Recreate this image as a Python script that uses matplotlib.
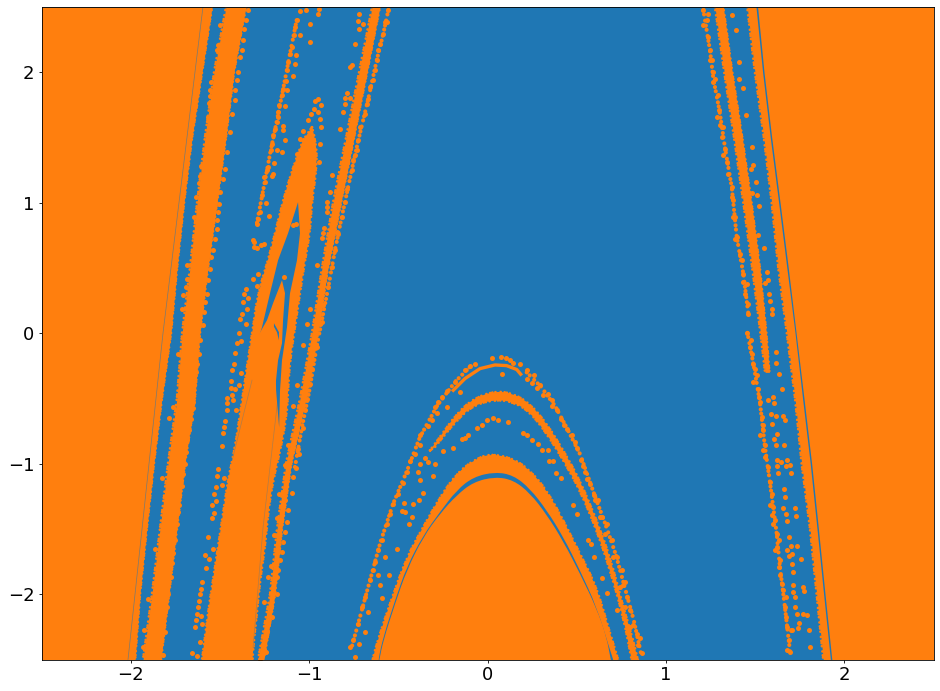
import matplotlib
matplotlib.use("Agg")
import matplotlib.pyplot as plt
from matplotlib.path import Path
from matplotlib.patches import PathPatch

BLUE = "#1f77b4"
ORANGE = "#ff7f0e"

levels = [2.5, 2, 1.5, 1, .5, 0, -.5, -1, -1.5, -2, -2.5]
left_edge = [-1.544, -1.600, -1.656, -1.701, -1.740, -1.774, -1.825, -1.870, -1.910, -1.948, -1.975]
left_slit = [(-1.595, 2.5), (-1.819, 0), (-2.015, -2.5)]
band_b_l = [-1.466, -1.533, -1.584, -1.628, -1.668, -1.712, -1.741, -1.791, -1.836, -1.881, -1.931]
band_b_r = [-1.354, -1.421, -1.466, -1.516, -1.567, -1.612, -1.640, -1.696, -1.741, -1.785, -1.830]
right_edge = [1.514, 1.55, 1.593, 1.64, 1.686, 1.73, 1.774, 1.817, 1.855, 1.892, 1.93]
band_e_l = [1.456, 1.499, 1.549, 1.593, 1.630, 1.678, 1.724, 1.761, 1.808, 1.845, 1.882]
band_e_r = [1.505, 1.542, 1.585, 1.632, 1.678, 1.724, 1.766, 1.809, 1.847, 1.884, 1.922]
levels_f = [2.5, 2, 1.5, 1, .5, 0, -.3]
band_f_l = [1.275, 1.327, 1.382, 1.434, 1.484, 1.530, 1.556]
band_f_r = [1.322, 1.372, 1.428, 1.480, 1.527, 1.563, 1.580]
levels_d = [2.5, 2, 1.5, 1, .5, 0, -.5, -1, -1.5, -2, -2.5]
band_d_l = [-.647, -.720, -.793, -.866, -.928, -.984, -1.051, -1.13, -1.180, -1.219, -1.286]
band_d_r = [-.603, -.675, -.748, -.821, -.894, -.950, -1.017, -1.10, -1.152, -1.191, -1.253]

wedge = [(-.984, 1.579), (-.961, 1.479), (-.956, 1.272), (-.984, 1.019), (-.995, .766), (-1.023, .559), (-1.051, .307),
         (-1.079, .046), (-1.107, -.207), (-1.118, -.437), (-1.124, -.613), (-1.157, -.874), (-1.202, -1.126),
         (-1.230, -1.379), (-1.247, -1.640), (-1.275, -1.893), (-1.292, -2.146), (-1.314, -2.406), (-1.320, -2.6),
         (-1.610, -2.6), (-1.600, -2.5), (-1.567, -2.146), (-1.539, -1.893), (-1.511, -1.640), (-1.482, -1.379), (-1.455, -1.126),
         (-1.415, -.874), (-1.387, -.613), (-1.359, -.360), (-1.343, -.207), (-1.314, .046), (-1.287, .307),
         (-1.230, .559), (-1.191, .766), (-1.146, 1.019), (-1.090, 1.272), (-1.034, 1.479)]
wedge_gap = [(-1.062, 1.004), (-1.051, .766), (-1.068, .559), (-1.107, .307), (-1.124, .046), (-1.152, -.207), (-1.163, -.437),
             (-1.168, -.72), (-1.185, -.437), (-1.19, -.05), (-1.287, -.054), (-1.264, .046), (-1.219, .307), (-1.174, .559), (-1.118, .766)]
wedge_spike = [(-1.152, .406), (-1.135, .307), (-1.146, .100), (-1.152, -.077), (-1.174, -.207), (-1.191, -.437),
               (-1.30, -.437), (-1.30, -.054), (-1.236, .100), (-1.202, .230)]
spike_slit = [(-1.197, .077), (-1.169, .008), (-1.169, -.054), (-1.180, .008), (-1.197, .05)]
wedge_slit_a = [(-1.163, -.36), (-1.258, -1.487), (-1.314, -2.406)]
wedge_slit_b = [(-1.32, -.36), (-1.427, -.95)]

dome_outer = [(-.66, -2.6), (-.646, -2.5), (-.603, -2.301), (-.547, -2.072), (-.453, -1.714), (-.360, -1.484), (-.266, -1.254),
              (-.173, -1.075), (-.079, -.973), (.014, -.922), (.145, -.960), (.238, -1.050), (.332, -1.203),
              (.425, -1.433), (.518, -1.688), (.612, -1.944), (.687, -2.301), (.733, -2.5), (.75, -2.6)]
dome_gap = [(-.62, -2.6), (-.612, -2.5), (-.584, -2.327), (-.518, -2.046), (-.453, -1.791), (-.360, -1.548), (-.266, -1.369),
            (-.173, -1.203), (-.079, -1.101), (.042, -1.063), (.145, -1.088), (.238, -1.190), (.332, -1.356),
            (.425, -1.561), (.518, -1.816), (.612, -2.097), (.687, -2.429), (.705, -2.5), (.72, -2.6)]
dome_inner = [(-.62, -2.6), (-.606, -2.5), (-.584, -2.353), (-.518, -2.072), (-.453, -1.816), (-.360, -1.561), (-.266, -1.382),
              (-.173, -1.241), (-.079, -1.14), (.042, -1.10), (.145, -1.125), (.238, -1.225), (.332, -1.39),
              (.425, -1.595), (.518, -1.84), (.612, -2.11), (.668, -2.33), (.690, -2.5), (.71, -2.6)]
arc_mid = [(-.322, -.897), (-.266, -.794), (-.173, -.616), (-.079, -.501), (.042, -.442), (.145, -.462), (.238, -.539),
           (.332, -.692), (.425, -.897), (.518, -1.126), (.612, -1.433), (.687, -1.714), (.761, -2.097), (.817, -2.353),
           (.842, -2.5), (.86, -2.6), (.82, -2.6), (.808, -2.5), (.761, -2.174), (.687, -1.816), (.612, -1.510), (.518, -1.203), (.425, -.973),
           (.332, -.769), (.238, -.603), (.145, -.526), (.042, -.508), (-.079, -.552), (-.173, -.667), (-.294, -.871)]
arc_top = [(-.192, -.437), (-.126, -.347), (-.042, -.271), (.042, -.243), (.107, -.248), (.164, -.278), (.186, -.314)]

chain_dome_right = [(.22, -.30), (.30, -.41), (.38, -.56), (.45, -.74), (.52, -.93), (.60, -1.24), (.66, -1.46), (.72, -1.70), (.77, -1.95), (.82, -2.2), (.86, -2.45)]
chain_dome_left = [(-.10, -.26), (-.18, -.37), (-.28, -.55), (-.38, -.80), (-.45, -1.05), (-.53, -1.31), (-.60, -1.60), (-.65, -1.85), (-.72, -2.2), (-.76, -2.4)]
chain_h = [(-.556, 2.475), (-.584, 2.296), (-.621, 2.092), (-.668, 1.798), (-.724, 1.479), (-.761, 1.249), (-.817, .891), (-.855, .636), (-.892, .355), (-.93, .087), (-.958, -.105), (-1.0, -.45), (-1.04, -.72), (-1.08, -1.03)]
chain_far_r = [(1.21, 2.475), (1.247, 2.169), (1.266, 1.95), (1.30, 1.709), (1.332, 1.415), (1.369, 1.121), (1.397, .738), (1.434, .457), (1.462, .151)]
chain_low_r = [(1.457, .003), (1.49, -.232), (1.527, -.526), (1.554, -.858), (1.583, -1.139), (1.621, -1.535), (1.640, -1.80), (1.667, -2.097), (1.696, -2.442)]
chain_i = [(-1.07, 2.398), (-1.107, 2.143), (-1.145, 1.875), (-1.182, 1.619), (-1.215, 1.402), (-1.262, 1.063), (-1.294, .835)]

dots_right_far = [(1.210, 2.475), (1.229, 2.398), (1.210, 2.360), (1.238, 2.271), (1.247, 2.169), (1.257, 2.092), (1.266, 2.003),
    (1.266, 1.926), (1.294, 1.824), (1.300, 1.709), (1.304, 1.594), (1.313, 1.504), (1.332, 1.415), (1.341, 1.313), (1.350, 1.223),
    (1.369, 1.121), (1.378, 1.019), (1.387, .891), (1.397, .738), (1.416, .610), (1.434, .457), (1.444, .304), (1.462, .151),
    (1.238, 2.450), (1.247, 2.092), (1.275, 1.951), (1.288, 1.658), (1.322, 1.581), (1.318, 1.364), (1.369, 1.044), (1.378, .891),
    (1.387, .725), (1.425, .559), (1.453, .381), (1.462, .227), (1.434, .393)]
dots_right_iso = [(1.373, 2.442), (1.391, 2.327), (1.412, 2.079), (1.412, 1.951), (1.434, 1.883), (1.449, 1.670), (1.481, 1.428),
    (1.490, 1.293), (1.475, 1.257), (1.503, 1.160), (1.485, 1.078), (1.513, 1.057), (1.524, .978), (1.519, .751), (1.552, .656),
    (1.569, .470), (1.574, .411), (1.558, .386), (1.580, .299), (1.584, .248), (1.593, .189), (1.597, .146)]
dots_right_low = [(1.457, .003), (1.475, -.054), (1.481, -.156), (1.490, -.232), (1.509, -.322), (1.518, -.424), (1.527, -.526),
    (1.536, -.641), (1.545, -.743), (1.554, -.858), (1.554, -.948), (1.573, -1.024), (1.583, -1.139), (1.592, -1.229), (1.602, -1.331),
    (1.611, -1.433), (1.621, -1.535), (1.621, -1.637), (1.640, -1.739), (1.640, -1.854), (1.658, -1.970), (1.667, -2.097), (1.673, -2.174),
    (1.677, -2.250), (1.692, -2.352), (1.696, -2.442), (1.471, -.105), (1.500, -.271), (1.490, -.373), (1.524, -.488), (1.545, -.705),
    (1.527, -.781), (1.545, -.896), (1.583, -1.318), (1.592, -1.395), (1.602, -1.458), (1.636, -1.581), (1.612, -1.663), (1.636, -1.791),
    (1.649, -1.918), (1.673, -2.020), (1.704, -2.276), (1.681, -2.429)]
dots_right_low_iso = [(1.617, -.143), (1.617, -.225), (1.636, -.309), (1.649, -.431), (1.602, -.488), (1.574, -.513), (1.608, -.531),
    (1.587, -.616), (1.616, -.636), (1.658, -.636), (1.670, -.667), (1.597, -.692), (1.625, -.769), (1.608, -.807), (1.664, -.853),
    (1.615, -.853), (1.621, -.968), (1.644, -.986), (1.681, -.968), (1.698, -1.007), (1.625, -1.019), (1.673, -1.019), (1.703, -1.068),
    (1.630, -1.068), (1.664, -1.190), (1.670, -1.254), (1.726, -1.339), (1.658, -1.339), (1.673, -1.382), (1.731, -1.397), (1.681, -1.438),
    (1.692, -1.561), (1.737, -1.627), (1.699, -1.632), (1.681, -1.658), (1.705, -1.688), (1.692, -1.709), (1.757, -1.729), (1.709, -1.765),
    (1.714, -1.826), (1.714, -1.931), (1.770, -1.941), (1.776, -1.974), (1.724, -2.020), (1.714, -1.982), (1.724, -2.097), (1.770, -2.148),
    (1.793, -2.156), (1.733, -2.148), (1.746, -2.217), (1.743, -2.258), (1.804, -2.276), (1.809, -2.404), (1.705, -2.271)]
dots_stream_h = [(-.556, 2.475), (-.575, 2.386), (-.584, 2.296), (-.603, 2.220), (-.621, 2.092), (-.631, 2.015), (-.659, 1.888),
    (-.668, 1.798), (-.687, 1.683), (-.715, 1.581), (-.724, 1.479), (-.743, 1.364), (-.761, 1.249), (-.789, 1.109), (-.799, 1.006),
    (-.817, .891), (-.836, .764), (-.855, .636), (-.873, .508), (-.892, .355), (-.920, .215), (-.930, .087), (-.565, 2.386), (-.612, 2.169),
    (-.640, 1.939), (-.678, 1.760), (-.733, 1.402), (-.752, 1.326), (-.771, 2.041), (-.761, 2.054), (-.789, 1.842), (-.771, 1.806),
    (-.799, 1.806), (-.799, 1.760), (-.808, 1.696), (-.827, 1.568), (-.743, 2.220), (-.719, 2.444), (-.724, 2.393), (-.696, 2.373),
    (-.719, 2.335), (-.872, 1.211), (-.883, 1.083), (-.897, 1.006), (-.901, .968), (-.901, .930), (-.919, .807), (-.924, .771), (-.930, .733),
    (-.954, .526), (-.845, .776), (-.995, .189), (-1.010, .074), (-.939, .074)]
dots_stream_i = [(-.943, 2.488), (-.948, 2.450), (-1.017, 2.480), (-1.051, 2.470), (-1.070, 2.398), (-1.079, 2.347), (-.995, 2.373),
    (-1.084, 2.284), (-1.051, 2.284), (-.995, 2.232), (-1.098, 2.194), (-1.107, 2.143), (-1.073, 2.130), (-1.120, 2.079), (-1.079, 2.066),
    (-1.126, 2.015), (-1.092, 1.969), (-1.131, 1.934), (-1.145, 1.875), (-1.122, 1.862), (-1.150, 1.829), (-1.171, 1.747), (-1.133, 1.745),
    (-1.172, 1.696), (-1.176, 1.658), (-1.182, 1.619), (-1.191, 1.568), (-1.145, 1.586), (-1.148, 1.556), (-1.201, 1.517), (-1.133, 1.484),
    (-1.210, 1.453), (-1.215, 1.402), (-1.178, 1.402), (-1.150, 1.390), (-1.195, 1.308), (-1.229, 1.275), (-1.238, 1.249), (-1.201, 1.223),
    (-1.210, 1.206), (-1.253, 1.198), (-1.245, 1.160), (-1.262, 1.063), (-1.243, 1.001), (-1.275, .930), (-1.284, .879), (-1.223, .897),
    (-1.294, .835), (-1.313, .718), (-1.307, .700), (-1.309, .662), (-1.290, .656), (-1.271, .674), (-1.251, .687), (-1.232, .521),
    (-1.284, .457), (-1.313, .419), (-1.294, .360), (-1.354, .342), (-1.363, .304), (-1.341, .273), (-1.369, .240), (-1.346, .189),
    (-1.374, .151), (-1.387, .112), (-1.355, .069)]
dots_above_wedge = [(-.948, 1.798), (-.967, 1.780), (-.933, 1.752), (-.973, 1.722), (-.991, 1.683), (-.948, 1.696), (-.939, 1.645),
    (-1.004, 1.637), (-.935, 1.579), (-1.032, 1.550), (-1.051, 1.492), (-.939, 1.453), (-1.070, 1.377), (-.945, 1.313), (-1.088, .828),
    (-1.075, .835), (-1.139, .432)]
dots_stream_j = [(-1.341, 2.475), (-1.354, 2.404), (-1.365, 2.335), (-1.368, 2.245), (-1.378, 2.169), (-1.387, 2.117), (-1.499, 2.360),
    (-1.508, 2.212), (-1.518, 2.169), (-1.397, 2.003), (-1.406, 1.939), (-1.415, 1.862), (-1.415, 1.785), (-1.434, 1.683), (-1.443, 1.543),
    (-1.458, 1.390), (-1.471, 1.262), (-1.480, 1.185), (-1.499, 1.083), (-1.505, .994), (-1.508, .930), (-1.518, .866), (-1.518, .802),
    (-1.527, .725), (-1.537, .636), (-1.552, .585), (-1.556, .496), (-1.565, .406), (-1.574, .304), (-1.584, .240), (-1.589, .163), (-1.593, .061)]
dots_left_b = [(-1.552, 1.926), (-1.556, 1.867), (-1.556, 1.819), (-1.560, 1.768), (-1.565, 1.658), (-1.608, 1.282), (-1.611, 1.206),
    (-1.619, 1.155), (-1.634, 1.045), (-1.645, .891), (-1.682, .521), (-1.686, .419), (-1.692, .355), (-1.705, .291), (-1.711, .189),
    (-1.733, -.156), (-1.762, -.565), (-1.788, -.646), (-1.827, -1.106), (-1.864, -1.650), (-1.901, -2.033), (-1.925, -2.276), (-1.933, -2.404)]
dots_stream_k = [(-.958, -.105), (-.985, -.271), (-.995, -.386), (-1.014, -.501), (-1.023, -.590), (-1.036, -.723), (-1.060, -.884),
    (-1.056, -.922), (-1.073, -1.029), (-1.088, -1.101), (-1.098, -1.224), (-1.117, -1.356), (-1.144, -1.229), (-1.135, -1.280),
    (-1.154, -1.369), (-1.163, -1.433), (-1.126, -1.446), (-1.135, -1.522), (-1.144, -1.599), (-1.154, -1.676), (-1.163, -1.739),
    (-1.172, -1.816), (-1.182, -1.867), (-1.200, -1.944), (-1.210, -2.020), (-1.219, -2.097), (-1.210, -2.174), (-1.228, -2.225),
    (-1.238, -2.289), (-1.257, -2.378), (-1.266, -2.455), (-1.242, -2.442), (-1.275, -2.493), (-1.178, -1.413), (-1.195, -1.548),
    (-1.167, -1.229), (-1.215, -1.785), (-1.228, -1.867), (-1.251, -2.059), (-1.182, -1.995), (-1.032, -.092), (-1.088, -.559),
    (-1.066, -.394), (-1.120, -.860), (-1.133, -1.006)]
dots_stream_l = [(-1.391, 0), (-1.403, -.074), (-1.380, -.059), (-1.414, -.151), (-1.420, -.238), (-1.430, -.278), (-1.384, -.301),
    (-1.436, -.365), (-1.391, -.393), (-1.440, -.416), (-1.416, -.424), (-1.430, -.475), (-1.458, -.493), (-1.425, -.508), (-1.458, -.531),
    (-1.462, -.590), (-1.411, -.590), (-1.470, -.672), (-1.475, -.718), (-1.481, -.764), (-1.490, -.861), (-1.509, -1.042), (-1.514, -1.093),
    (-1.475, -1.106), (-1.524, -1.178), (-1.490, -1.165), (-1.532, -1.229), (-1.521, -1.282), (-1.543, -1.318), (-1.532, -1.374),
    (-1.545, -1.415), (-1.565, -1.561), (-1.537, -1.650), (-1.582, -1.696), (-1.559, -1.727), (-1.576, -1.796), (-1.598, -1.905),
    (-1.604, -1.957), (-1.610, -2.000), (-1.615, -2.051), (-1.620, -2.097), (-1.626, -2.148), (-1.604, -2.164), (-1.633, -2.199),
    (-1.598, -2.225), (-1.641, -2.250), (-1.611, -2.365), (-1.656, -2.450), (-1.626, -2.475)]
dots_right_b_low = [(-1.612, -.054), (-1.615, -.156), (-1.626, -.232), (-1.634, -.296), (-1.645, -.398), (-1.651, -.526), (-1.648, -.570),
    (-1.663, -.654), (-1.676, -.743), (-1.685, -.820), (-1.691, -.909), (-1.695, -.999), (-1.708, -1.075), (-1.714, -1.172), (-1.728, -1.318),
    (-1.736, -1.369), (-1.739, -1.458), (-1.752, -1.586), (-1.761, -1.683), (-1.767, -1.757), (-1.776, -1.867), (-1.789, -1.995),
    (-1.795, -2.097), (-1.808, -2.289), (-1.821, -2.467)]
dots_dome_right = [(.023, -.186), (.074, -.181), (.102, -.186), (.126, -.207), (.145, -.227), (.182, -.238), (.220, -.278), (.261, -.322),
    (.294, -.398), (.341, -.462), (.364, -.513), (.388, -.590), (.410, -.654), (.444, -.730), (.490, -.833), (.522, -.973), (.547, -1.063),
    (.575, -1.152), (.597, -1.241), (.622, -1.280), (.640, -1.408), (.668, -1.463), (.696, -1.586), (.724, -1.714), (.752, -1.816),
    (.771, -1.905), (.780, -2.020), (.798, -2.123), (.817, -2.238), (.836, -2.301), (.855, -2.332), (.864, -2.450), (.845, -2.391),
    (.220, -.347), (.313, -.475), (.472, -.782), (.556, -1.114), (.631, -1.408), (.659, -1.535), (.705, -1.714), (.743, -1.944),
    (.771, -2.097), (.798, -2.250), (.250, -.38), (.28, -.42), (.36, -.56), (.43, -.70), (.50, -.88), (.535, -1.02), (.60, -1.28)]
dots_dome_iso = [(.079, -.309), (.117, -.679), (.033, -.646), (.061, -.661), (-.005, -.662), (-.033, -.705), (-.057, -.723), (-.107, -.782),
    (-.126, -.799), (-.145, -.807), (-.192, -.876), (-.248, -.902), (.197, -.764), (.220, -.776), (.252, -.820), (.285, -.851), (.304, -.892),
    (.341, -.896), (.346, -.978), (.369, -.978), (.384, -1.068), (.410, -1.106), (.481, -1.313), (.504, -1.382), (.565, -1.581), (.578, -1.617),
    (.597, -1.714), (.644, -1.872), (.672, -1.990), (.724, -2.123), (.761, -1.931)]
dots_dome_left = [(-.070, -.232), (-.098, -.253), (-.126, -.278), (-.182, -.373), (-.229, -.442), (-.257, -.488), (-.276, -.526), (-.294, -.565),
    (-.285, -.610), (-.313, -.667), (-.332, -.713), (-.378, -.782), (-.378, -.858), (-.406, -.922), (-.434, -.978), (-.453, -1.063),
    (-.476, -1.147), (-.500, -1.229), (-.528, -1.305), (-.547, -1.382), (-.565, -1.458), (-.593, -1.586), (-.612, -1.663), (-.631, -1.752),
    (-.640, -1.816), (-.659, -1.893), (-.687, -2.020), (-.705, -2.097), (-.724, -2.225), (-.752, -2.352), (-.770, -2.403), (-.743, -2.480),
    (-.154, -.450), (-.229, -.565), (-.350, -.953), (-.332, -.986), (-.378, -.999), (-.294, -1.004), (-.388, -1.063), (-.378, -1.126),
    (-.303, -1.096), (-.360, -1.223), (-.382, -1.280), (-.415, -1.305), (-.468, -1.300), (-.481, -1.361), (-.462, -1.369), (-.425, -1.408),
    (-.438, -1.464), (-.505, -1.650), (-.575, -1.714), (-.550, -1.854), (-.612, -1.854), (-.603, -1.931), (-.589, -2.026), (-.668, -2.135),
    (-.687, -2.289), (-.718, -2.383)]

dot_groups = [dots_right_far, dots_right_iso, dots_right_low, dots_right_low_iso, dots_stream_h, dots_stream_i, dots_above_wedge,
              dots_stream_j, dots_left_b, dots_stream_k, dots_stream_l, dots_right_b_low, dots_dome_right, dots_dome_iso, dots_dome_left]

fig = plt.figure(figsize=(9.4, 6.91), dpi=100)
ax = fig.add_axes([41.5 / 940, 1 - 659.5 / 691, 892 / 940, 652.5 / 691])
ax.set_facecolor(BLUE)

ROUGH = (0, (0.01, 1.1, 0.01, 1.9, 0.01, 1.4, 0.01, 0.8))
CHAIN = (0, (0.01, 1.0, 0.01, 1.5, 0.01, 1.2))

def smooth_path(points, closed=True):
    """Quadratic curve through the midpoints of the read outline."""
    verts = [points[0]]
    codes = [Path.MOVETO]
    for a, b in zip(points[1:-1], points[2:]):
        verts += [a, ((a[0] + b[0]) / 2, (a[1] + b[1]) / 2)]
        codes += [Path.CURVE3, Path.CURVE3]
    verts.append(points[-1])
    codes.append(Path.LINETO)
    if closed:
        verts.append(points[0])
        codes.append(Path.CLOSEPOLY)
    return Path(verts, codes)

def smooth_fill(points, color=ORANGE, z=2, rough=False):
    path = smooth_path(points)
    ax.add_patch(PathPatch(path, facecolor=color, edgecolor="none", lw=0, zorder=z))
    if rough:
        ax.add_patch(PathPatch(path, fill=False, edgecolor=color, lw=2.0, linestyle=ROUGH,
                               capstyle="round", zorder=z))

def plain_fill(points, color, z):
    ax.fill([p[0] for p in points], [p[1] for p in points], color=color, lw=0, zorder=z)

def rough_edge(xs, ys, z=2, lw=2.0, ls=ROUGH):
    ax.plot(xs, ys, color=ORANGE, lw=lw, ls=ls, dash_capstyle="round", zorder=z)

def chain(points):
    ax.plot([p[0] for p in points], [p[1] for p in points], color=ORANGE, lw=3.0, ls=CHAIN,
            dash_capstyle="round", zorder=6)

ax.fill_betweenx(levels, -2.5, left_edge, color=ORANGE, lw=0, zorder=2)
ax.plot([p[0] for p in left_slit], [p[1] for p in left_slit], color=BLUE, lw=0.5, alpha=0.6, zorder=3)
rough_edge(left_edge, levels)
ax.fill_betweenx(levels, band_b_l, band_b_r, color=ORANGE, lw=0, zorder=2)
rough_edge(band_b_l, levels)
rough_edge(band_b_r, levels)
ax.fill_betweenx(levels, right_edge, 2.5, color=ORANGE, lw=0, zorder=2)
ax.fill_betweenx(levels, band_e_l, band_e_r, color=ORANGE, lw=0, zorder=2)
rough_edge(band_e_l, levels)
ax.fill_betweenx(levels_f, band_f_l, band_f_r, color=ORANGE, lw=0, zorder=2)
rough_edge(band_f_l, levels_f)
rough_edge(band_f_r, levels_f)
ax.fill_betweenx(levels_d, band_d_l, band_d_r, color=ORANGE, lw=0, zorder=2)
rough_edge(band_d_l, levels_d)
rough_edge(band_d_r, levels_d)

smooth_fill(wedge, rough=True)
plain_fill(wedge_gap, BLUE, 3)
plain_fill(wedge_spike, ORANGE, 4)
plain_fill(spike_slit, BLUE, 5)
for slit in (wedge_slit_a, wedge_slit_b):
    ax.plot([p[0] for p in slit], [p[1] for p in slit], color=BLUE, lw=0.5, alpha=0.35, zorder=5)
smooth_fill(dome_outer, rough=True)
smooth_fill(dome_gap, BLUE, 3)
smooth_fill(dome_inner, ORANGE, 4)
smooth_fill(arc_mid, rough=True)
ax.plot([p[0] for p in arc_top], [p[1] for p in arc_top], color=ORANGE, lw=2.4, zorder=2)

for c in (chain_dome_right, chain_dome_left, chain_h, chain_far_r, chain_low_r, chain_i):
    chain(c)

for group in dot_groups:
    ax.scatter([p[0] for p in group], [p[1] for p in group], s=13, color=ORANGE, linewidths=0, zorder=6)

ax.set_xlim(-2.5, 2.5)
ax.set_ylim(-2.5, 2.5)
ax.set_xticks([-2, -1, 0, 1, 2])
ax.set_yticks([-2, -1, 0, 1, 2])
ax.tick_params(labelsize=13, length=2.5, width=0.6, pad=2.5)
for s in ax.spines.values():
    s.set_linewidth(0.6)
    s.set_zorder(10)
fig.savefig("out.png", dpi=100)
